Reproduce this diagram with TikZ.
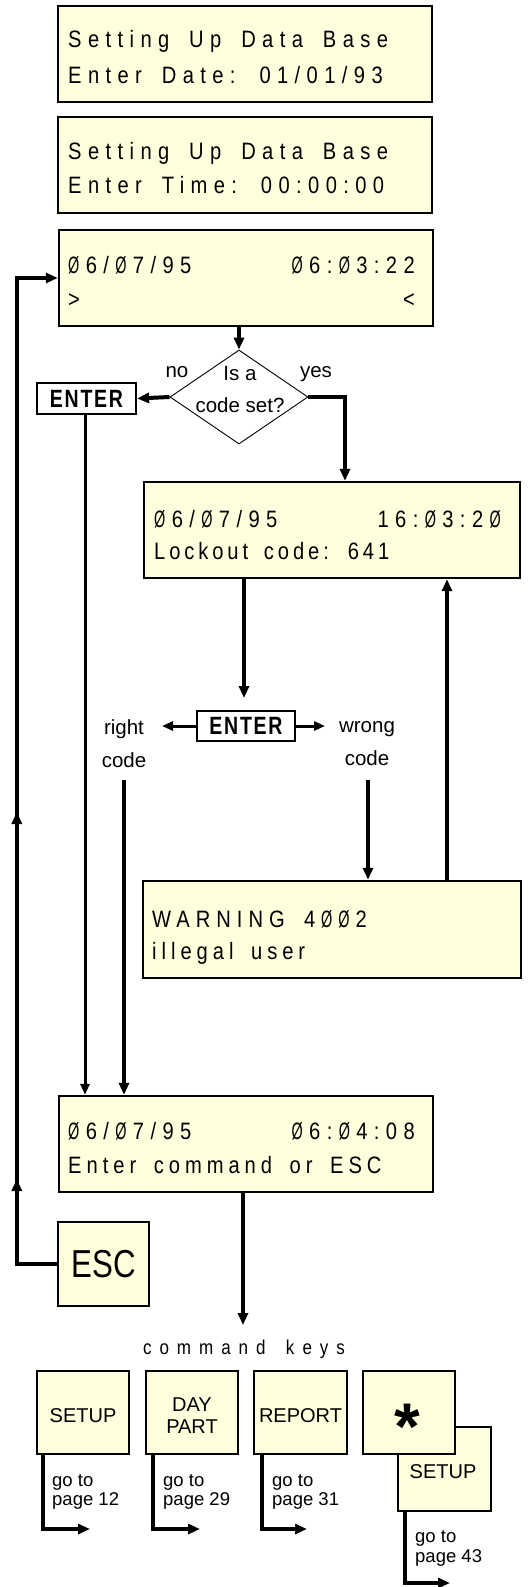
\documentclass[tikz,border=0pt]{standalone}
\usepackage{fontspec}
\setmainfont{Liberation Sans}
\newfontfamily\lcdfont{Liberation Sans}[FakeStretch=0.85,LetterSpace=27,WordSpace=1.66]
\newfontfamily\ozfont{Liberation Sans}[FakeStretch=0.607]
\newfontfamily\cmdfont{Liberation Sans}[FakeStretch=0.85,LetterSpace=40,WordSpace=1.6]
\newfontfamily\enterfont{Liberation Sans}[FakeStretch=0.78,LetterSpace=7]
\newfontfamily\escfont{Liberation Sans}[FakeStretch=0.8]
\newcommand\oz{{\ozfont Ø}}
\newcommand\tk{\kern6.4pt}
\newcommand\tkw{\kern6pt}
\usetikzlibrary{arrows.meta,shapes.geometric,decorations.markings}
\definecolor{lcdfill}{RGB}{255,255,221}
\tikzset{
  lcd/.style={draw, line width=2.4pt, fill=lcdfill, inner sep=0, minimum width=374pt, minimum height=96pt},
  lcdtxt/.style={inner sep=0, font=\lcdfont\fontsize{23.7}{28}\selectfont\addfontfeatures{LetterSpace=#1}},
  lcdtxt/.default=27,
  lbl/.style={inner sep=0, font=\fontsize{20.5}{24}\selectfont},
  keylbl/.style={inner sep=0, font=\fontsize{20}{24}\selectfont},
  golbl/.style={inner sep=0, anchor=base west, font=\fontsize{18.5}{20}\selectfont},
  enterbox/.style={draw, line width=2.2pt, fill=white, inner sep=0, minimum width=99pt, minimum height=31pt, font=\enterfont\bfseries\fontsize{25}{30}\selectfont},
  keybox/.style={draw, line width=2.4pt, fill=lcdfill, inner sep=0, minimum width=92pt, minimum height=83pt},
  tip/.style={-{Triangle[length=12pt,width=10pt]}},
  conn/.style={line width=4pt, tip},
}
\begin{document}
\begin{tikzpicture}[x=1pt,y=-1pt]
\useasboundingbox (0,0) rectangle (532,1587);
\fill[white] (0,0) rectangle (532,1587);

% box 1
\node[lcd] (b1) at (245,54) {};
\node[lcdtxt, anchor=base west] (b1a) at (68,48) {Setting Up Data Base};
\node[lcdtxt, anchor=base west] (b1b) at (68,83) {Enter Date: 01/01/93};
% box 2
\node[lcd] (b2) at (245,165) {};
\node[lcdtxt, anchor=base west] (b2a) at (68,159) {Setting Up Data Base};
\node[lcdtxt, anchor=base west] (b2b) at (68,193) {Enter Time: 00:00:00};
% box 3
\node[lcd] (b3) at (246,278) {};
\node[lcdtxt, anchor=base west] (b3a) at (68,273) {\oz\tk6/\tk\oz\tk7/95};
\node[lcdtxt, anchor=base east] (b3b) at (415,273) {\oz\tk6:\tk\oz\tk3:22};
\node[lcdtxt, anchor=base west] (b3c) at (68,307) {>};
\node[lcdtxt, anchor=base east] (b3d) at (415,307) {<};

% decision
\node[draw, diamond, line width=0.9pt, minimum width=138pt, minimum height=94pt, inner sep=0] (dia) at (239,397) {};
\node[lbl, anchor=base] (isa) at (240,380) {Is a};
\node[lbl, anchor=base] (cset) at (240,412) {code set?};
\node[lbl, anchor=base] (no) at (177,377) {no};
\node[lbl, anchor=base] (yes) at (316,377) {yes};
\node[enterbox] (e1) at (86.5,398.5) {ENTER};

\draw[conn] (b3.south -| dia.north) -- (dia.north);
\draw[conn] (dia.west) -- (e1.east);

% lockout box
\node[lcd, minimum width=376pt] (b4) at (332,530) {};
\node[lcdtxt, anchor=base west] (b4a) at (154,527) {\oz\tk6/\tk\oz\tk7/95};
\node[lcdtxt, anchor=base east] (b4b) at (501,527) {16:\tk\oz\tk3:2\tk\oz};
\node[lcdtxt=16.5, anchor=base west] (b4c) at (154,559) {Lockout code: 641};

\draw[conn] (dia.east) -| ([xshift=13pt]b4.north);

% second enter
\coordinate (e2top) at (244,698);
\node[enterbox, minimum width=98pt, minimum height=30pt] (e2) at (246,726) {ENTER};
\coordinate (rt) at (162,726);
\coordinate (wt) at (325,726);
\draw[conn] (b4.south -| e2top) -- (e2top);
\draw[line width=3pt, -{Triangle[length=11pt,width=9pt]}] (e2.west) -- (rt);
\draw[line width=3pt, -{Triangle[length=11pt,width=9pt]}] (e2.east) -- (wt);
\node[lbl, anchor=base] (right) at (124,734) {right};
\node[lbl, anchor=base] (rcode) at (124,767) {code};
\node[lbl, anchor=base] (wrong) at (367,732) {wrong};
\node[lbl, anchor=base] (wcode) at (367,765) {code};

% warning box
\node[lcd, minimum width=378pt, minimum height=97pt] (b5) at (332,929.5) {};
\node[lcdtxt=25.3, anchor=base west] (b5a) at (152,927) {WARNING 4\tkw\oz\tkw\oz\tkw2};
\node[lcdtxt=21, anchor=base west] (b5b) at (152,959) {illegal user};

% final box
\node[lcd] (b6) at (246,1144) {};
\node[lcdtxt, anchor=base west] (b6a) at (68,1139) {\oz\tk6/\tk\oz\tk7/95};
\node[lcdtxt, anchor=base east] (b6b) at (415,1139) {\oz\tk6:\tk\oz\tk4:08};
\node[lcdtxt=21, anchor=base west] (b6c) at (68,1173) {Enter command or ESC};

\coordinate (rc) at (124,780);
\coordinate (wc) at (368,780);
\draw[conn] (rc) -- (rc |- b6.north);
\draw[conn] (wc) -- (wc |- b5.north);
\draw[conn] ([xshift=115pt]b5.north) -- ([xshift=115pt]b4.south);
\draw[line width=3pt, -{Triangle[length=11pt,width=9pt]}] ([xshift=-1.5pt]e1.south) -- ([xshift=-1.5pt]e1.south |- b6.north);

% esc and loop
\node[keybox, minimum width=91pt, minimum height=84pt, font=\escfont\fontsize{39}{44}\selectfont] (esc) at (103.5,1264) {ESC};
\draw[conn, postaction={decorate}, decoration={markings,
   mark=at position 125pt with {\arrow{Triangle[length=12pt,width=10pt]}},
   mark=at position 492pt with {\arrow{Triangle[length=12pt,width=10pt]}}}]
   (esc.west) -- ++(-40,0) |- (b3.west);

% command keys
\coordinate (ck) at (243,1325);
\draw[conn] (b6.south -| ck) -- (ck);
\node[inner sep=0, anchor=base, font=\cmdfont\fontsize{20}{24}\selectfont] (cmd) at (244,1354) {command keys};

\node[keybox, minimum width=93pt, minimum height=84pt] (k5) at (444.5,1469) {};
\node[keybox] (k1) at (83,1412.5) {};
\node[keybox] (k2) at (192,1412.5) {};
\node[keybox, minimum width=93pt] (k3) at (300.5,1412.5) {};
\node[keybox] (k4) at (409,1412.5) {};

\node[keylbl, anchor=base] (k1t) at (83,1422) {SETUP};
\node[keylbl, anchor=base] (k2t) at (192,1411) {DAY};
\node[keylbl, anchor=base] (k2u) at (192,1433) {PART};
\node[keylbl, anchor=base] (k3t) at (300.5,1422) {REPORT};
\node[inner sep=0, anchor=base, font=\bfseries\fontsize{66}{66}\selectfont] (k4t) at (407,1449) {*};
\node[keylbl, anchor=base] (k5t) at (443,1478) {SETUP};

\coordinate (g1) at (90,1529);
\coordinate (g2) at (200,1529);
\coordinate (g3) at (307,1529);
\coordinate (g5) at (450,1583);
\draw[conn] ([xshift=-40pt]k1.south) |- (g1);
\draw[conn] ([xshift=-39pt]k2.south) |- (g2);
\draw[conn] ([xshift=-38.5pt]k3.south) |- (g3);
\draw[conn] ([xshift=-39.5pt]k5.south) |- (g5);

\node[golbl] (go1a) at (52,1486) {go to};
\node[golbl] (go1b) at (52,1505) {page 12};
\node[golbl] (go2a) at (163,1486) {go to};
\node[golbl] (go2b) at (163,1505) {page 29};
\node[golbl] (go3a) at (272,1486) {go to};
\node[golbl] (go3b) at (272,1505) {page 31};
\node[golbl] (go5a) at (415,1542) {go to};
\node[golbl] (go5b) at (415,1562) {page 43};
\end{tikzpicture}
\end{document}
